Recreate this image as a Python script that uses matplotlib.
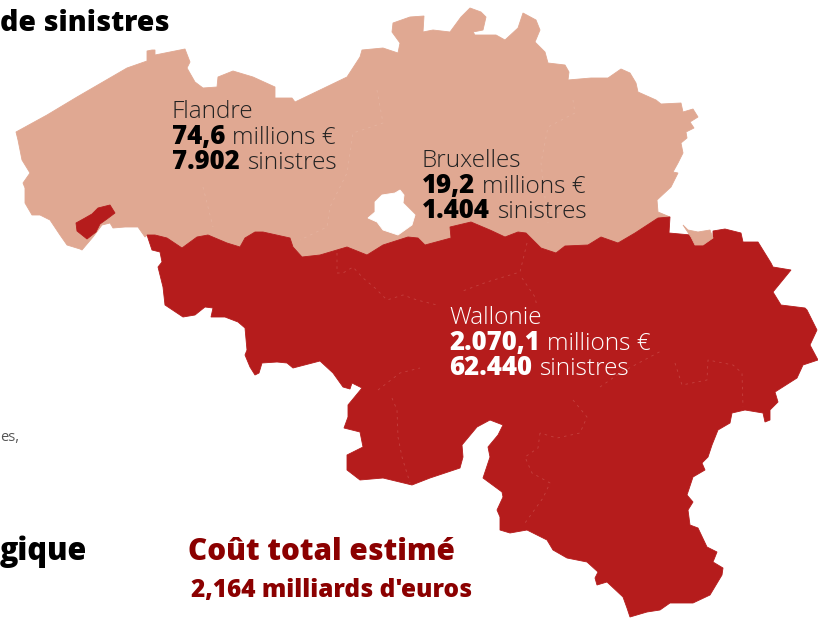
import matplotlib
matplotlib.use('Agg')
import matplotlib.pyplot as plt
from matplotlib import rcParams

rcParams['font.family'] = ['Open Sans', 'DejaVu Sans']

# Outlines, in picture pixels
north_coast = [(16,132),(47,115),(77,97),(127,68),(147,61),(147,51),(152,50),(155,50),(155,55),(185,49),(190,62),(187,68),
    (195,82),(203,88),(217,87),(218,77),(233,71),(253,77),(275,87),(275,98),(292,98),(295,102),(320,90),(347,77),(360,57),
    (362,50),(383,48),(398,53),(400,43),(392,32),(393,23),(410,17),(424,16),(423,32),(433,30),(450,32),(461,17),(470,8),
    (481,12),(486,17),(483,30),(473,32),(475,35),(496,35),(505,40),(518,28),(523,13),(536,20),(540,30),(535,42),(545,52),
    (548,63),(565,65),(569,72),(568,80),(591,78),(608,78),(621,69),(630,73),(636,83),(638,92),(656,100),(661,104),(681,103),
    (683,112),(693,109),(698,117),(690,122),(694,128),(686,132),(687,138),(681,143),(683,153),(678,163),(673,172),(678,173),
    (671,187),(657,200),(658,212),(670,217)]
language_border = [(670,217),(658,218),(635,233),(618,243),(601,237),(588,245),(565,246),(556,253),(541,248),(526,233),
    (518,232),(505,237),(490,230),(471,222),(450,227),(451,238),(425,245),(418,238),(408,237),(383,245),(367,255),(347,247),
    (320,255),(302,257),(293,247),(290,238),(263,232),(255,232),(245,238),(240,247),(227,243),(208,235),(197,237),(182,248),
    (167,238),(155,235),(147,235)]
west_flandre = [(145,237),(138,227),(125,227),(113,228),(110,223),(102,225),(93,237),(82,250),(80,249),(67,245),(60,235),
    (50,220),(40,215),(32,215),(25,203),(25,188),(23,183),(30,173),(22,160),(18,140)]
wallonie_south = [(669,233),(691,235),(695,245),(703,245),(713,238),(713,231),(725,229),(741,233),(743,242),(758,242),
    (771,263),(773,267),(791,270),(773,292),(781,305),(805,308),(807,310),(817,330),(810,345),(818,360),(803,365),(797,378),
    (775,392),(778,402),(770,410),(770,420),(765,422),(763,413),(745,410),(732,413),(730,423),(718,430),(712,445),(708,457),
    (702,463),(705,470),(693,477),(687,495),(693,502),(688,510),(690,525),(698,528),(707,547),(717,552),(713,562),(723,568),
    (722,575),(710,595),(693,603),(670,603),(660,610),(647,612),(630,617),(627,608),(623,597),(607,582),(597,585),(595,578),
    (598,572),(587,562),(567,558),(553,550),(547,540),(527,530),(510,533),(500,530),(500,517),(497,510),(503,497),(502,492),
    (483,478),(490,457),(488,447),(498,435),(503,425),(490,420),(477,427),(462,445),(463,457),(460,468),(430,478),(412,485),
    (383,478),(360,480),(347,470),(347,455),(363,447),(360,432),(344,428),(348,417),(348,405),(362,388),(352,383),(350,389),
    (343,387),(333,373),(320,361),(293,368),(287,363),(277,362),(262,363),(259,373),(255,375),(250,367),(245,355),(247,350),
    (245,328),(238,322),(225,317),(211,317),(213,308),(205,307),(195,315),(183,317),(165,305),(163,287),(158,267),(162,262),
    (160,252),(152,250)]
fourons = [(691,237),(683,225),(688,230),(698,232),(710,230),(713,238),(703,245),(695,245)]
comines = [(76,223),(85,218),(92,214),(98,208),(110,205),(115,213),(107,219),(100,224),(96,232),(87,239),(77,231)]
bruxelles = [(368,218),(375,212),(375,202),(382,195),(395,193),(400,190),(404,195),(403,203),(415,215),(412,225),(398,235),
    (383,230),(377,222)]

wallonie_provinces = [
    [(337,253),(337,273),(343,273),(353,267),(363,278),(375,288),(387,300),(403,295),(417,300),(437,305)],
    [(527,243),(520,272),(487,282),(460,292)],
    [(522,278),(535,297),(537,307)],
    [(378,390),(400,373),(420,368)],
    [(392,398),(397,410),(398,437),(402,457),(410,483)],
    [(540,433),(538,448),(525,457),(532,473),(550,483),(543,498),(525,523)],
    [(573,400),(587,417),(580,433),(557,438),(540,433)],
    [(600,387),(620,373),(663,350)],
    [(675,363),(682,385),(707,380),(708,360),(733,365),(742,373),(743,407)],
]
flandre_provinces = [
    [(377,90),(383,123),(353,133),(347,173),(330,207),(327,227),(300,240)],
    [(203,187),(213,227)],
    [(573,100),(575,113),(548,127),(541,163),(548,223)],
]

region_names = ['Flandre', 'Bruxelles', 'Wallonie']
region_costs = ['74,6', '19,2', '2.070,1']
region_claims = ['7.902', '1.404', '62.440']
region_x = [172, 422, 449]
region_y = [118, 167, 324]
region_colors = ['#222222', '#222222', 'white']
bold_colors = ['black', 'black', 'white']

# Colors
color_wallonie = '#B51C1C'
color_flandre = '#E0A892'
color_title = '#8B0000'

fig = plt.figure(figsize=(8.18, 6.18), dpi=100)
ax = fig.add_axes([0, 0, 1, 1])
ax.set_xlim(0, 818)
ax.set_ylim(618, 0)
ax.axis('off')


def draw_shape(points, color, zorder):
    xs, ys = zip(*points)
    ax.fill(xs, ys, facecolor=color, edgecolor=color, linewidth=0.6, zorder=zorder)


def draw_lines(lines, color):
    for line in lines:
        xs, ys = zip(*line)
        ax.plot(xs, ys, color=color, linewidth=0.6, linestyle=(0, (3, 5)), alpha=0.25, zorder=4)


draw_shape(north_coast + language_border + west_flandre, color_flandre, 1)
draw_shape(bruxelles, 'white', 2)
draw_shape(language_border[::-1] + wallonie_south, color_wallonie, 3)
draw_shape(fourons, color_flandre, 3.5)
draw_shape(comines, color_wallonie, 3.5)
draw_lines(wallonie_provinces, '#F0B0A8')
draw_lines(flandre_provinces, '#F3D3C6')

renderer = fig.canvas.get_renderer()


def two_part(x, y, bold, light, color_bold, color_light):
    t = ax.text(x, y, bold, fontsize=18.5, fontweight='black', color=color_bold, va='baseline', zorder=5)
    width = t.get_window_extent(renderer).width
    ax.text(x + width + 7, y, light, fontsize=17.6, fontweight='light', color=color_light, va='baseline', zorder=5)


for i in range(len(region_names)):
    ax.text(region_x[i], region_y[i], region_names[i], fontsize=17.6, fontweight='light',
            color=region_colors[i], va='baseline', zorder=5)
    two_part(region_x[i], region_y[i] + 26, region_costs[i], 'millions €', bold_colors[i], region_colors[i])
    two_part(region_x[i], region_y[i] + 51, region_claims[i], 'sinistres', bold_colors[i], region_colors[i])

# Cropped headings and total
ax.text(0, 31, 'de sinistres', fontsize=20.4, fontweight='extra bold', color='black', va='baseline')
ax.text(0, 560, 'gique', fontsize=22, fontweight='extra bold', color='black', va='baseline')
ax.text(0, 441, 'es,', fontsize=10.5, color='#555555', va='baseline')
ax.text(188, 560, 'Coût total estimé', fontsize=21.3, fontweight='extra bold', color=color_title, va='baseline')
ax.text(191, 597, "2,164 milliards d'euros", fontsize=17.6, fontweight='extra bold', color=color_title, va='baseline')

plt.savefig('out.png', dpi=100)
